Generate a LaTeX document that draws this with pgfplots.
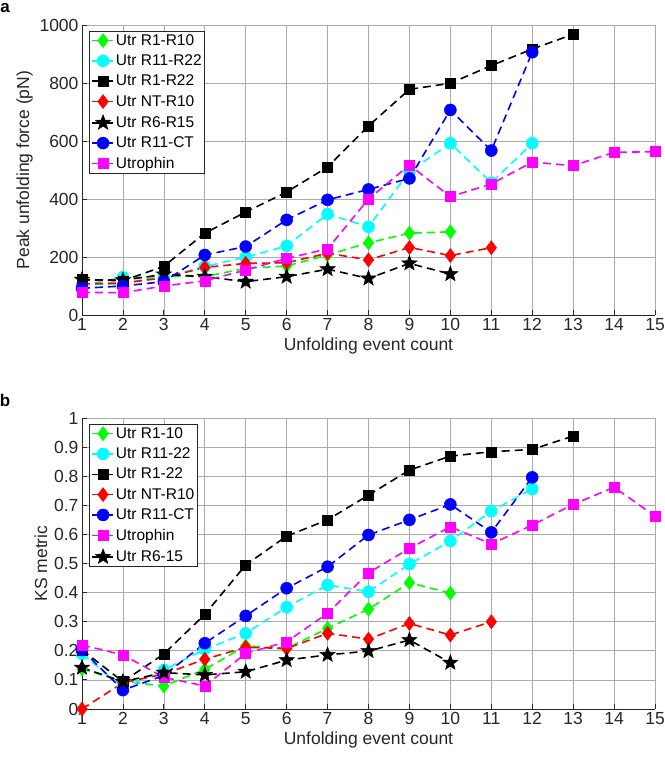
\documentclass[border=0pt]{standalone}
\usepackage{fontspec}
\setmainfont{Liberation Sans}
\usepackage{pgfplots}
\pgfplotsset{compat=1.18}
\usetikzlibrary{plotmarks}

\definecolor{mgreen}{rgb}{0,1,0}
\definecolor{mcyan}{rgb}{0,1,1}
\definecolor{mred}{rgb}{1,0,0}
\definecolor{mblue}{rgb}{0,0,1}
\definecolor{mmag}{rgb}{1,0,1}
\definecolor{axc}{rgb}{0.15,0.15,0.15}

\pgfdeclareplotmark{fstar}{%
  \pgfpathmoveto{\pgfpointpolar{90}{\pgfplotmarksize}}%
  \pgfpathlineto{\pgfpointpolar{126}{0.42\pgfplotmarksize}}%
  \pgfpathlineto{\pgfpointpolar{162}{\pgfplotmarksize}}%
  \pgfpathlineto{\pgfpointpolar{198}{0.42\pgfplotmarksize}}%
  \pgfpathlineto{\pgfpointpolar{234}{\pgfplotmarksize}}%
  \pgfpathlineto{\pgfpointpolar{270}{0.42\pgfplotmarksize}}%
  \pgfpathlineto{\pgfpointpolar{306}{\pgfplotmarksize}}%
  \pgfpathlineto{\pgfpointpolar{342}{0.42\pgfplotmarksize}}%
  \pgfpathlineto{\pgfpointpolar{18}{\pgfplotmarksize}}%
  \pgfpathlineto{\pgfpointpolar{54}{0.42\pgfplotmarksize}}%
  \pgfpathclose
  \pgfusepathqfillstroke
}

\pgfplotsset{
  mystyle/.style={
    scale only axis, width=573pt,
    xmin=1, xmax=15, xtick={1,...,15},
    axis lines=left, axis line style={-, draw=axc, line width=0.8pt},
    grid=major, grid style={black!33, line width=0.7pt},
    tick style={axc, line width=0.8pt}, major tick length=5pt,
    tick align=inside,
    ticklabel style={font=\fontsize{17.5}{20}\selectfont, text=axc},
    label style={font=\fontsize{17.5}{20}\selectfont, text=axc},
    /pgf/number format/assume math mode=true,
    /pgf/number format/1000 sep={},
    legend cell align=left,
    legend style={font=\fontsize{15.5}{18}\selectfont, draw=axc, line width=0.8pt,
      at={(0.012,0.979)}, anchor=north west, inner sep=2pt, row sep=6pt,
      nodes={inner sep=1pt}},
    legend image code/.code={\draw[mark repeat=2,mark phase=2,#1] plot coordinates {(0pt,0pt) (11pt,0pt) (22pt,0pt)};},
    every axis plot/.append style={line width=1.6pt, dash pattern=on 8pt off 5pt},
    sgreen/.style={mgreen, mark=diamond*, mark size=7pt, mark options={solid, fill=mgreen, line width=0.5pt}},
    scyan/.style={mcyan, mark=*, mark size=6pt, mark options={solid, fill=mcyan, line width=0.5pt}},
    sblack/.style={black, mark=square*, mark size=5pt, mark options={solid, fill=black, line width=0.5pt}},
    sred/.style={mred, mark=diamond*, mark size=7pt, mark options={solid, fill=mred, line width=0.5pt}},
    sstar/.style={black, mark=fstar, mark size=8pt, mark options={solid, fill=black, line width=0.5pt}},
    sblue/.style={mblue, mark=*, mark size=6pt, mark options={solid, fill=mblue, line width=0.5pt}},
    smag/.style={mmag, mark=square*, mark size=5pt, mark options={solid, fill=mmag, line width=0.5pt}},
  }
}

\begin{document}
\begin{tikzpicture}
\useasboundingbox (0pt,0pt) rectangle (664pt,760pt);
\node[font=\bfseries\fontsize{17}{19}\selectfont, anchor=center] at (5pt,752pt) {a};
\node[font=\bfseries\fontsize{17}{19}\selectfont, anchor=center] at (5pt,360pt) {b};

\begin{axis}[mystyle, at={(82pt,445pt)}, anchor=south west, height=290pt,
  ymin=0, ymax=1000, ytick={0,200,...,1000},
  xlabel={Unfolding event count}, ylabel={Peak unfolding force (pN)}]
\addplot[sgreen] coordinates {(1,105) (2,108) (3,135) (4,132) (5,161) (6,169) (7,207) (8,249) (9,282) (10,287)};
\addlegendentry{Utr R1-R10}
\addplot[scyan] coordinates {(1,102) (2,130) (3,130) (4,167) (5,199) (6,238) (7,348) (8,304) (9,495) (10,592) (11,456) (12,592)};
\addlegendentry{Utr R11-R22}
\addplot[sblack] coordinates {(1,122) (2,118) (3,168) (4,282) (5,355) (6,424) (7,510) (8,652) (9,778) (10,799) (11,860) (12,917) (13,968)};
\addlegendentry{Utr R1-R22}
\addplot[sred] coordinates {(1,108) (2,110) (3,128) (4,164) (5,178) (6,180) (7,213) (8,190) (9,233) (10,205) (11,232)};
\addlegendentry{Utr NT-R10}
\addplot[sstar] coordinates {(1,122) (2,120) (3,140) (4,132) (5,115) (6,132) (7,158) (8,126) (9,178) (10,141)};
\addlegendentry{Utr R6-R15}
\addplot[sblue] coordinates {(1,92) (2,100) (3,115) (4,207) (5,236) (6,328) (7,397) (8,433) (9,471) (10,707) (11,567) (12,906)};
\addlegendentry{Utr R11-CT}
\addplot[smag] coordinates {(1,78) (2,77) (3,100) (4,118) (5,155) (6,195) (7,228) (8,400) (9,517) (10,408) (11,452) (12,527) (13,515) (14,561) (15,563)};
\addlegendentry{Utrophin}
\end{axis}

\begin{axis}[mystyle, at={(82pt,51pt)}, anchor=south west, height=291pt,
  ymin=0, ymax=1, ytick={0,0.1,...,1.01},
  yticklabel style={/pgf/number format/fixed},
  xlabel={Unfolding event count}, ylabel={KS metric}]
\addplot[sgreen] coordinates {(1,0.138) (2,0.095) (3,0.079) (4,0.136) (5,0.217) (6,0.208) (7,0.277) (8,0.343) (9,0.434) (10,0.398)};
\addlegendentry{Utr R1-10}
\addplot[scyan] coordinates {(1,0.19) (2,0.073) (3,0.134) (4,0.205) (5,0.26) (6,0.35) (7,0.426) (8,0.403) (9,0.498) (10,0.577) (11,0.68) (12,0.756)};
\addlegendentry{Utr R11-22}
\addplot[sblack] coordinates {(1,0.203) (2,0.094) (3,0.189) (4,0.325) (5,0.495) (6,0.594) (7,0.65) (8,0.735) (9,0.821) (10,0.869) (11,0.884) (12,0.892) (13,0.938)};
\addlegendentry{Utr R1-22}
\addplot[sred] coordinates {(1,0.0) (2,0.09) (3,0.12) (4,0.171) (5,0.212) (6,0.208) (7,0.26) (8,0.24) (9,0.294) (10,0.254) (11,0.30)};
\addlegendentry{Utr NT-R10}
\addplot[sblue] coordinates {(1,0.203) (2,0.065) (3,0.115) (4,0.226) (5,0.32) (6,0.415) (7,0.489) (8,0.598) (9,0.65) (10,0.703) (11,0.607) (12,0.796)};
\addlegendentry{Utr R11-CT}
\addplot[smag] coordinates {(1,0.22) (2,0.186) (3,0.109) (4,0.079) (5,0.191) (6,0.231) (7,0.329) (8,0.468) (9,0.552) (10,0.626) (11,0.567) (12,0.632) (13,0.703) (14,0.762) (15,0.663)};
\addlegendentry{Utrophin}
\addplot[sstar] coordinates {(1,0.142) (2,0.094) (3,0.125) (4,0.117) (5,0.128) (6,0.168) (7,0.186) (8,0.199) (9,0.237) (10,0.159)};
\addlegendentry{Utr R6-15}
\end{axis}
\end{tikzpicture}
\end{document}
